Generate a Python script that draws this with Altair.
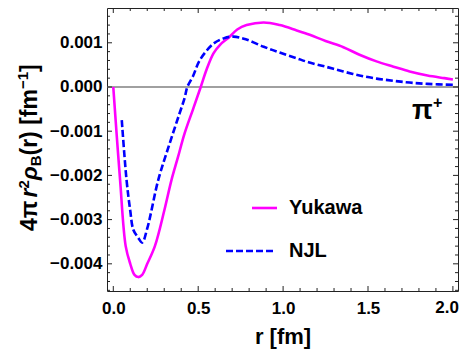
import altair as alt
import pandas as pd

# ---- data ----
r_yukawa = [0.0, 0.02, 0.04, 0.073, 0.1, 0.125, 0.147, 0.17, 0.2, 0.245, 0.3, 0.343, 0.38, 0.42, 0.47,
            0.515, 0.55, 0.59, 0.63, 0.68, 0.73, 0.785, 0.886, 0.98, 1.08, 1.157, 1.25, 1.355, 1.45,
            1.55, 1.65, 1.745, 1.85, 1.95, 2.0]
v_yukawa = [0.0, -0.00108, -0.0021, -0.0036, -0.0040, -0.00425, -0.0043, -0.00425, -0.0040, -0.0036,
            -0.0028, -0.0021, -0.0016, -0.00105, -0.0005, 0.0, 0.0004, 0.00076, 0.00096, 0.00112,
            0.0013, 0.0014, 0.00146, 0.0014, 0.00128, 0.00118, 0.00104, 0.0009, 0.00073, 0.00058,
            0.00046, 0.00035, 0.00026, 0.0002, 0.00017]

r_njl = [0.05, 0.078, 0.1, 0.118, 0.145, 0.17, 0.2, 0.265, 0.33, 0.39, 0.42, 0.436, 0.47, 0.51, 0.59,
         0.65, 0.707, 0.78, 0.886, 0.98, 1.08, 1.15, 1.25, 1.355, 1.45, 1.55, 1.65, 1.745, 1.85, 2.0]
v_njl = [-0.00075, -0.0021, -0.0028, -0.00323, -0.0034, -0.00352, -0.0032, -0.0021, -0.0013, -0.0006,
         -0.00025, 0.0, 0.00025, 0.00061, 0.00098, 0.0011, 0.00114, 0.00108, 0.00091, 0.00078,
         0.00065, 0.00056, 0.00046, 0.00035, 0.00026, 0.00019, 0.00014, 0.0001, 0.00007, 0.00005]

x_major = [0.0, 0.5, 1.0, 1.5, 2.0]
x_minor = [0.1, 0.2, 0.3, 0.4, 0.6, 0.7, 0.8, 0.9, 1.1, 1.2, 1.3, 1.4, 1.6, 1.7, 1.8, 1.9]
y_major = [0.001, 0.0, -0.001, -0.002, -0.003, -0.004]
y_minor = [0.0016, 0.0014, 0.0012, 0.0008, 0.0006, 0.0004, 0.0002, -0.0002, -0.0004, -0.0006,
           -0.0008, -0.0012, -0.0014, -0.0016, -0.0018, -0.0022, -0.0024, -0.0026, -0.0028,
           -0.0032, -0.0034, -0.0036, -0.0038, -0.0042, -0.0044, -0.0046]

series_names = ["Yukawa", "NJL"]

W, H = 351, 283
FONT = "Liberation Sans"
xscale = alt.Scale(domain=[-0.037, 2.03], nice=False, zero=False)
yscale = alt.Scale(domain=[-0.004615, 0.001787], nice=False, zero=False)

XAXIS = alt.Axis(values=x_major[:-1], format=".1f", ticks=False, domain=False, grid=False,
                 labelFont=FONT, labelFontWeight="bold", labelFontSize=17,
                 labelColor="black", labelPadding=9, title="r [fm]",
                 titleFont=FONT, titleFontWeight="bold", titleFontSize=22,
                 titleColor="black", titlePadding=10)
YAXIS = alt.Axis(values=y_major, ticks=False, domain=False, grid=False,
                 labelExpr="replace(format(datum.value, '.3f'), '-', '\u2212')",
                 labelFont=FONT, labelFontWeight="bold", labelFontSize=17,
                 labelColor="black", labelPadding=5, title="")

def X(f):
    return alt.X(f, scale=xscale, axis=XAXIS)

def Y(f):
    return alt.Y(f, scale=yscale, axis=YAXIS)

df_y = pd.DataFrame({"r": r_yukawa, "v": v_yukawa})
df_n = pd.DataFrame({"r": r_njl, "v": v_njl})
one = pd.DataFrame({"a": [0]})

zero_line = alt.Chart(pd.DataFrame({"r": [0.0], "v": [0.0]})).mark_rule(color="#808080", strokeWidth=1.3).encode(
    y=Y("v:Q"), x=alt.value(0), x2=alt.value(W))

yuk = alt.Chart(df_y).mark_line(color="#FF00FF", strokeWidth=2.6, interpolate="catmull-rom").encode(
    x=X("r:Q"), y=Y("v:Q"))
njl = alt.Chart(df_n).mark_line(color="#0000FF", strokeWidth=2.6, strokeDash=[7, 3],
                                interpolate="catmull-rom").encode(
    x=X("r:Q"), y=Y("v:Q"))

# last x label kept inside the page edge
last_lab = alt.Chart(pd.DataFrame({"r": [x_major[-1]], "lab": ["%.1f" % x_major[-1]]})).mark_text(
    align="right", baseline="top", font=FONT, fontSize=17, fontWeight="bold", color="black").encode(
    x=alt.value(W + 1), y=alt.value(H + 9), text="lab:N")

TICK = "#222222"
def xticks(vals, length):
    d = pd.DataFrame({"r": vals})
    b = alt.Chart(d).mark_rule(color=TICK, strokeWidth=1).encode(
        x=X("r:Q"), y=alt.value(H), y2=alt.value(H - length))
    t = alt.Chart(d).mark_rule(color=TICK, strokeWidth=1).encode(
        x=X("r:Q"), y=alt.value(0), y2=alt.value(length))
    return [b, t]

def yticks(vals, length):
    d = pd.DataFrame({"v": vals})
    l = alt.Chart(d).mark_rule(color=TICK, strokeWidth=1).encode(
        y=Y("v:Q"), x=alt.value(0), x2=alt.value(length))
    r = alt.Chart(d).mark_rule(color=TICK, strokeWidth=1).encode(
        y=Y("v:Q"), x=alt.value(W), x2=alt.value(W - length))
    return [l, r]

ticks = xticks(x_major, 5) + xticks(x_minor, 3) + yticks(y_major, 5) + yticks(y_minor, 3)

# legend
leg_y = alt.Chart(one).mark_rule(color="#FF00FF", strokeWidth=2.6).encode(
    x=alt.value(145), x2=alt.value(170), y=alt.value(200))
leg_n = alt.Chart(one).mark_rule(color="#0000FF", strokeWidth=2.6, strokeDash=[7, 3]).encode(
    x=alt.value(119), x2=alt.value(168), y=alt.value(243))
leg_ty = alt.Chart(one).mark_text(text=series_names[0], align="left", baseline="middle", font=FONT,
                                  fontSize=20, fontWeight="bold", color="black").encode(
    x=alt.value(182), y=alt.value(200))
leg_tn = alt.Chart(one).mark_text(text=series_names[1], align="left", baseline="middle", font=FONT,
                                  fontSize=20, fontWeight="bold", color="black").encode(
    x=alt.value(182), y=alt.value(243))

# pi+ label
pi_t = alt.Chart(one).mark_text(text="π", align="left", baseline="alphabetic", font=FONT,
                                fontSize=27, fontWeight="bold", color="black").encode(
    x=alt.value(305), y=alt.value(111))
plus_t = alt.Chart(one).mark_text(text="+", align="left", baseline="alphabetic", font=FONT,
                                  fontSize=16, fontWeight="bold", color="black").encode(
    x=alt.value(326), y=alt.value(100))

# y title made of segments (rotated)
segs = [("4π ", 23, "normal", 0, 33.4),
        ("r", 23, "italic", 0, 9.0),
        ("2", 15, "normal", -8, 8.3),
        ("ρ", 23, "italic", 0, 14.0),
        ("B", 15, "normal", 4, 10.8),
        ("(r) [fm", 23, "normal", 0, 66.4),
        ("−1", 15, "normal", -9, 17.1),
        ("]", 23, "normal", 0, 7.6)]
title_layers = []
ypos = 223
base_x = -70
for txt, fs, style, dx, w in segs:
    title_layers.append(alt.Chart(one).mark_text(text=txt, angle=270, align="left", baseline="alphabetic",
                                                 font=FONT, fontSize=fs, fontWeight="bold", fontStyle=style,
                                                 color="black").encode(
        x=alt.value(base_x + dx), y=alt.value(ypos)))
    ypos -= w

chart = alt.layer(zero_line, yuk, njl, *ticks, last_lab, leg_y, leg_n, leg_ty, leg_tn, pi_t, plus_t,
                  *title_layers).properties(
    width=W, height=H, autosize="none",
    padding={"left": 99, "top": 0, "right": 1, "bottom": 58},
).configure_view(stroke="#222222", strokeWidth=1)

chart.save("out.html", embed_options={"renderer": "svg", "actions": False})
